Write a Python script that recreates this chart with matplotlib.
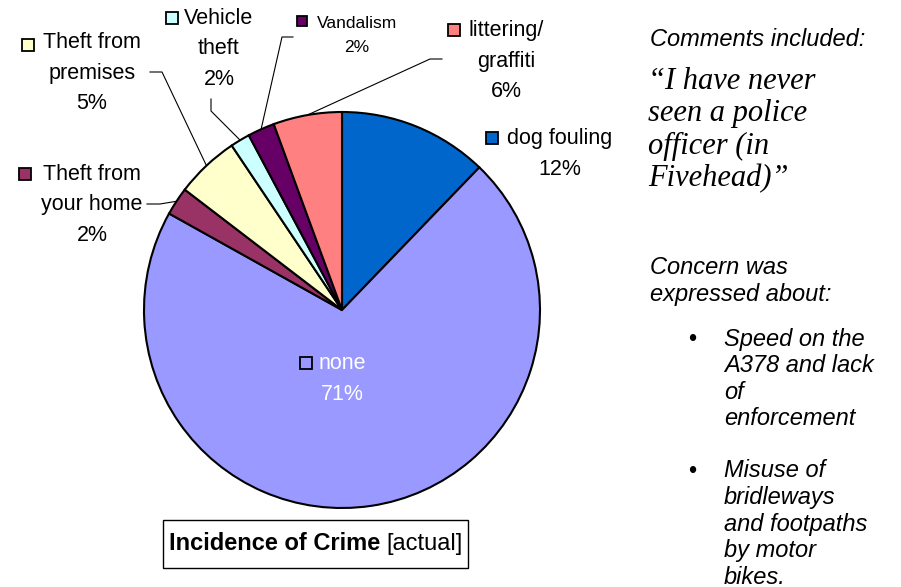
import matplotlib.pyplot as plt
import numpy as np
from matplotlib.lines import Line2D
from matplotlib.patches import Rectangle

# slices, clockwise from 12 o'clock
categories = ["dog fouling", "none", "Theft from\nyour home", "Theft from\npremises",
              "Vehicle\ntheft", "Vandalism", "littering/\ngraffiti"]
shares = [12.2, 70.9, 2.3, 5.2, 1.6, 2.2, 5.6]
colors = ["#0066CC", "#9999FF", "#993366", "#FFFFCC", "#CCFFFF", "#660066", "#FF8080"]

quote = "\u201cI have never\nseen a police\nofficer (in\nFivehead)\u201d"
concerns = ["Speed on the\nA378 and lack\nof\nenforcement",
            "Misuse of\nbridleways\nand footpaths\nby motor\nbikes."]

W, H = 901, 587
plt.rcParams['font.family'] = ['Liberation Sans', 'DejaVu Sans']
fig = plt.figure(figsize=(W / 100, H / 100), dpi=100)


def fx(x):
    return x / W


def fy(y):
    return 1 - y / H


# pie axes: centre and radius in pixels
cx, cy, r = 342, 310, 198
ax = fig.add_axes([fx(cx - r), fy(cy + r), 2 * r / W, 2 * r / H])
wedges, _ = ax.pie(shares, colors=colors, startangle=90, counterclock=False,
                   wedgeprops=dict(edgecolor="black", linewidth=1.5))
for w in wedges:
    w.set_clip_on(False)
ax.set_xlim(-1, 1)
ax.set_ylim(-1, 1)

# label layout: text centre (x, y), key square (left, top), font size, leader elbow
label_pos = [(560, 154), (342, 379), (92, 205), (92, 73), (219, 49), (357, 35), (506, 61)]
key_pos = [(486, 132), (300, 357), (19, 168), (22, 39), (166, 12), (297, 16), (448, 24)]
label_size = [15.5, 15.5, 15.5, 15.5, 15.5, 12.5, 15.5]
label_color = ["black", "white", "black", "black", "black", "black", "black"]
leaders = [None, None, [(147, 204), (160, 204)], [(150, 72), (162, 72)],
           [(211, 99), (211, 111)], [(293, 37), (282, 37)], [(442, 59), (430, 59)]]

total = sum(shares)
for i, w in enumerate(wedges):
    pct = "{:.0f}%".format(shares[i] / total * 100)
    small = label_size[i] < 14
    ls = 1.75 if small else 1.6
    fig.text(fx(label_pos[i][0]), fy(label_pos[i][1]), categories[i] + "\n" + pct,
             ha="center", va="center", multialignment="center",
             fontsize=label_size[i], color=label_color[i], linespacing=ls)
    ks = 10 if small else 12
    kx, ky = key_pos[i]
    fig.add_artist(Rectangle((fx(kx), fy(ky + ks)), ks / W, ks / H,
                             facecolor=colors[i], edgecolor="black", lw=1.3,
                             transform=fig.transFigure))
    if leaders[i] is not None:
        mid = np.deg2rad((w.theta1 + w.theta2) / 2)
        rx, ry = ax.transData.transform((np.cos(mid), np.sin(mid)))
        xs = [fx(p[0]) for p in leaders[i]] + [rx / W]
        ys = [fy(p[1]) for p in leaders[i]] + [ry / H]
        fig.add_artist(Line2D(xs, ys, color="black", lw=0.8, transform=fig.transFigure))

# title box
fig.add_artist(Rectangle((fx(163), fy(568)), 305 / W, 48 / H, facecolor="white",
                         edgecolor="black", lw=1, transform=fig.transFigure))
fig.text(fx(169), fy(544), "Incidence of Crime", fontsize=17, fontweight="bold",
         ha="left", va="center")
fig.text(fx(386), fy(544), "[actual]", fontsize=17, ha="left", va="center")

# side notes
fig.text(fx(650), fy(40), "Comments included:", fontsize=17, style="italic",
         ha="left", va="center")
fig.text(fx(648), fy(130), quote, fontsize=22, style="italic",
         family=["Liberation Serif", "DejaVu Serif"], ha="left", va="center",
         linespacing=1.16)
fig.text(fx(650), fy(281), "Concern was\nexpressed about:", fontsize=17,
         style="italic", ha="left", va="center", linespacing=1.2)
for txt, top in zip(concerns, [340, 472]):
    fig.text(fx(688), fy(top), "\u2022", fontsize=17, ha="left", va="center")
    n = txt.count("\n")
    fig.text(fx(724), fy(top + n * 26 / 2), txt, fontsize=17, style="italic",
             ha="left", va="center", linespacing=1.2)

fig.savefig("out.png", dpi=100)
